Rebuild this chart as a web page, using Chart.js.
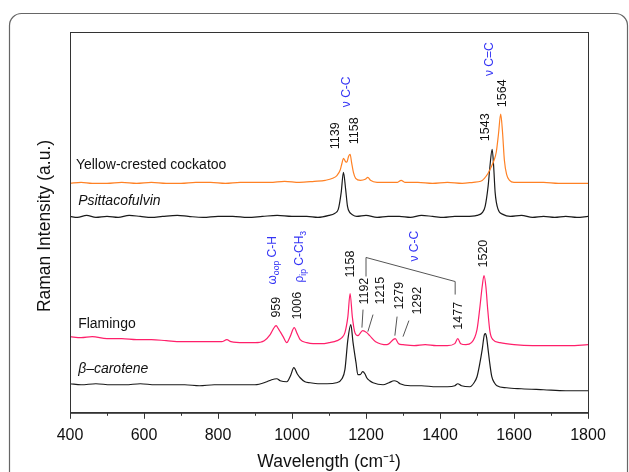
<!DOCTYPE html>
<html>
<head>
<meta charset="utf-8">
<script src="https://cdn.jsdelivr.net/npm/chart.js@4.4.1/dist/chart.umd.min.js"></script>
<style>
  html, body { margin: 0; padding: 0; background: #fff; }
  canvas { display: block; }
</style>
</head>
<body>
<canvas id="ramanChart" width="629" height="472"></canvas>
<script>
const FONT = 'Arial, "Liberation Sans", sans-serif';

// spectra: wavenumber (cm-1) / intensity (a.u., offset per trace)
const cockatooX = [400, 430, 460, 500, 540, 580, 620, 660, 700, 740, 780, 820, 860, 900, 940, 980, 1020, 1060, 1090, 1110, 1122, 1130, 1135, 1139, 1144, 1148, 1153, 1157, 1161, 1166, 1172, 1185, 1198, 1205, 1212, 1230, 1260, 1285, 1295, 1305, 1340, 1380, 1420, 1460, 1490, 1510, 1520, 1530, 1538, 1546, 1552, 1558, 1564, 1569, 1574, 1580, 1588, 1600, 1640, 1680, 1720, 1760, 1800];
const cockatooY = [229, 230, 229, 229, 230, 229, 230, 229, 229, 230, 230, 229, 230, 230, 230, 231, 230, 231, 232, 234, 237, 242, 249, 254, 251, 250, 256, 258, 250, 240, 234, 232, 233, 235, 232, 230, 230, 230, 232, 230, 230, 229, 230, 229, 230, 231, 234, 239, 245, 252, 260, 278, 298, 280, 252, 238, 232, 230, 230, 230, 229, 229, 229];

const psittacoX = [400, 420, 445, 470, 500, 530, 560, 590, 620, 650, 690, 720, 760, 800, 840, 880, 920, 960, 1000, 1040, 1070, 1100, 1115, 1125, 1133, 1139, 1145, 1150, 1156, 1162, 1175, 1200, 1230, 1260, 1290, 1320, 1350, 1380, 1410, 1440, 1470, 1500, 1515, 1522, 1530, 1535, 1541, 1545, 1549, 1557, 1570, 1590, 1620, 1650, 1680, 1710, 1740, 1770, 1800];
const psittacoY = [196, 195, 197, 195, 196, 195, 197, 196, 195, 196, 197, 196, 195, 196, 196, 195, 196, 197, 196, 196, 195, 197, 199, 203, 220, 240, 223, 206, 200, 198, 196, 197, 195, 196, 196, 195, 197, 196, 195, 196, 196, 197, 200, 206, 226, 246, 263, 246, 220, 203, 198, 196, 197, 195, 196, 195, 196, 195, 196];

const flamingoX = [400, 430, 460, 500, 540, 580, 620, 660, 700, 740, 780, 810, 824, 835, 870, 900, 925, 941, 950, 957, 963, 968, 976, 986, 995, 1006, 1014, 1022, 1040, 1057, 1080, 1100, 1122, 1135, 1143, 1151, 1157, 1163, 1170, 1178, 1191, 1202, 1210, 1226, 1257, 1279, 1288, 1300, 1330, 1360, 1390, 1420, 1440, 1448, 1456, 1470, 1485, 1500, 1508, 1514, 1519, 1524, 1529, 1535, 1543, 1562, 1600, 1650, 1700, 1750, 1800];
const flamingoY = [76, 75, 76, 74, 74, 73, 73, 72, 71, 71, 71, 71, 73, 71, 70, 70, 72, 78, 84, 87, 84, 81, 76, 70, 76, 85, 79, 73, 70, 69, 69, 70, 72, 75, 80, 96, 119, 96, 80, 77, 82, 80, 77, 71, 68, 74, 69, 68, 67, 68, 67, 67, 69, 74, 69, 68, 70, 83, 106, 126, 137, 126, 103, 81, 73, 70, 68, 67, 67, 67, 68];

const caroteneX = [400, 430, 470, 510, 550, 590, 630, 670, 710, 750, 790, 830, 870, 900, 932, 945, 959, 968, 986, 996, 1005, 1014, 1022, 1035, 1049, 1070, 1095, 1120, 1135, 1143, 1151, 1159, 1165, 1173, 1178, 1184, 1191, 1197, 1202, 1210, 1219, 1246, 1262, 1276, 1285, 1292, 1320, 1350, 1390, 1420, 1440, 1448, 1458, 1481, 1492, 1500, 1507, 1514, 1520, 1523, 1526, 1530, 1535, 1540, 1547, 1554, 1580, 1620, 1680, 1740, 1800];
const caroteneY = [29, 28, 29, 28, 28, 29, 28, 28, 28, 27, 28, 28, 28, 28, 31, 33, 34, 32, 31, 37, 45, 39, 35, 31, 30, 29, 29, 30, 34, 43, 73, 88, 70, 50, 38, 38, 41, 39, 35, 32, 30, 28, 30, 32, 31, 29, 27, 27, 26, 26, 27, 29, 27, 26, 30, 36, 48, 63, 78, 79, 75, 63, 48, 36, 30, 27, 25, 24, 23, 22, 22];

const xTicks = [400, 600, 800, 1000, 1200, 1400, 1600, 1800];
const xMinorTicks = [500, 700, 900, 1100, 1300, 1500, 1700];

// trace names: [text, x, y, italic]
const traceNames = [
  ['Yellow-crested cockatoo', 416, 247, false],
  ['Psittacofulvin', 422, 211, true],
  ['Flamingo', 422, 88, false],
  ['\u03B2\u2013carotene', 422, 44, true]
];

// peak labels (rotated): [text, x, y at bottom of text]
const peakLabels = [
  ['1139', 1119, 263], ['1158', 1170, 268], ['1543', 1522, 271], ['1564', 1568, 305],
  ['959', 959, 95], ['1006', 1014, 93], ['1158', 1157, 135], ['1192', 1197, 108],
  ['1215', 1238, 108], ['1279', 1292, 103], ['1292', 1338, 98], ['1477', 1449, 83],
  ['1520', 1519, 145]
];

// vibration mode labels (blue, rotated): [parts, x, y]
const modeLabels = [
  [[['\u03BD C-C', 0]], 1149, 305],
  [[['\u03BD C=C', 0]], 1535, 336],
  [[['\u03C9', 0], ['oop', 1], [' C-H', 0]], 949, 128],
  [[['\u03C1', 0], ['ip', 1], [' C-CH', 0], ['3', 1]], 1022, 130],
  [[['\u03BD C-C', 0]], 1332, 151]
];

// leader lines [x1, y1, x2, y2]
const leaderLines = [
  [1192, 103, 1189, 85], [1219, 98, 1205, 81], [1284, 96, 1278, 77], [1316, 92, 1300, 76]
];
const bracketX = [1200, 1200, 1441, 1441];
const bracketY = [136, 155, 131, 118];

const toPoints = (xs, ys) => xs.map((x, i) => ({ x: x, y: ys[i] }));

function drawRotated(ctx, parts, x, y, size, color) {
  ctx.save();
  ctx.translate(x, y);
  ctx.rotate(-Math.PI / 2);
  ctx.fillStyle = color;
  ctx.textBaseline = 'middle';
  ctx.textAlign = 'left';
  let pos = 0;
  parts.forEach(([txt, sub]) => {
    const fs = sub ? size * 0.72 : size;
    ctx.font = fs + 'px ' + FONT;
    ctx.fillText(txt, pos, sub ? size * 0.32 : 0);
    pos += ctx.measureText(txt).width;
  });
  ctx.restore();
}

const framePlugin = {
  id: 'frame',
  beforeDraw(chart) {
    const ctx = chart.ctx;
    ctx.save();
    ctx.strokeStyle = '#666';
    ctx.lineWidth = 1.2;
    ctx.beginPath();
    ctx.roundRect(9.5, 13.5, 618, 520, 12);
    ctx.stroke();
    ctx.restore();
  },
  afterDatasetsDraw(chart) {
    const ctx = chart.ctx;
    const xs = chart.scales.x, ys = chart.scales.y;
    const a = chart.chartArea;
    ctx.save();
    // plot box
    ctx.strokeStyle = '#333';
    ctx.lineWidth = 1;
    ctx.strokeRect(a.left + 0.5, a.top + 0.5, a.right - a.left, a.bottom - a.top);
    // minor ticks
    ctx.beginPath();
    xMinorTicks.forEach(v => {
      const px = Math.round(xs.getPixelForValue(v)) + 0.5;
      ctx.moveTo(px, a.bottom);
      ctx.lineTo(px, a.bottom + 3);
    });
    ctx.stroke();

    // axis titles
    ctx.fillStyle = '#111';
    ctx.font = '17.5px ' + FONT;
    ctx.textAlign = 'center';
    ctx.textBaseline = 'middle';
    ctx.fillText('Wavelength (cm\u207B\u00B9)', (a.left + a.right) / 2, 462);
    ctx.save();
    ctx.translate(45, 226);
    ctx.rotate(-Math.PI / 2);
    ctx.fillText('Raman Intensity (a.u.)', 0, 0);
    ctx.restore();

    // trace names
    ctx.textBaseline = 'middle';
    ctx.textAlign = 'left';
    traceNames.forEach(([txt, x, y, it]) => {
      ctx.font = (it ? 'italic ' : '') + '14px ' + FONT;
      ctx.fillText(txt, xs.getPixelForValue(x), ys.getPixelForValue(y));
    });

    // leader lines and bracket
    ctx.strokeStyle = '#555';
    ctx.lineWidth = 1;
    ctx.beginPath();
    leaderLines.forEach(([x1, y1, x2, y2]) => {
      ctx.moveTo(xs.getPixelForValue(x1), ys.getPixelForValue(y1));
      ctx.lineTo(xs.getPixelForValue(x2), ys.getPixelForValue(y2));
    });
    bracketX.forEach((x, i) => {
      const px = xs.getPixelForValue(x), py = ys.getPixelForValue(bracketY[i]);
      if (i === 0) ctx.moveTo(px, py); else ctx.lineTo(px, py);
    });
    ctx.stroke();

    peakLabels.forEach(([txt, x, y]) => {
      drawRotated(ctx, [[txt, 0]], xs.getPixelForValue(x), ys.getPixelForValue(y), 12.5, '#111');
    });
    modeLabels.forEach(([parts, x, y]) => {
      drawRotated(ctx, parts, xs.getPixelForValue(x), ys.getPixelForValue(y), 12, '#3434f5');
    });
    ctx.restore();
  }
};

const lineStyle = (color) => ({
  borderColor: color,
  borderWidth: 1.2,
  pointRadius: 0,
  fill: false,
  cubicInterpolationMode: 'monotone'
});

new Chart(document.getElementById('ramanChart').getContext('2d'), {
  type: 'line',
  data: {
    datasets: [
      { label: 'Yellow-crested cockatoo', data: toPoints(cockatooX, cockatooY), ...lineStyle('#ff8124') },
      { label: 'Psittacofulvin', data: toPoints(psittacoX, psittacoY), ...lineStyle('#1a1a1a') },
      { label: 'Flamingo', data: toPoints(flamingoX, flamingoY), ...lineStyle('#ff1f6a') },
      { label: 'beta-carotene', data: toPoints(caroteneX, caroteneY), ...lineStyle('#1a1a1a') }
    ]
  },
  options: {
    responsive: false,
    animation: false,
    devicePixelRatio: 1,
    layout: { padding: { left: 70, right: 41, top: 32, bottom: 20 } },
    plugins: { legend: { display: false }, tooltip: { enabled: false } },
    scales: {
      x: {
        type: 'linear',
        min: 400,
        max: 1800,
        afterBuildTicks: (scale) => { scale.ticks = xTicks.map(v => ({ value: v })); },
        ticks: {
          autoSkip: false,
          maxRotation: 0,
          padding: 7,
          color: '#111',
          font: { family: FONT, size: 16 },
          callback: (v) => String(v)
        },
        grid: { display: true, drawOnChartArea: false, drawTicks: true, tickLength: 6, color: '#333' },
        border: { display: true, color: '#333' },
        title: { display: false }
      },
      y: {
        type: 'linear',
        min: 0,
        max: 380,
        display: false
      }
    }
  },
  plugins: [framePlugin]
});
</script>
</body>
</html>
